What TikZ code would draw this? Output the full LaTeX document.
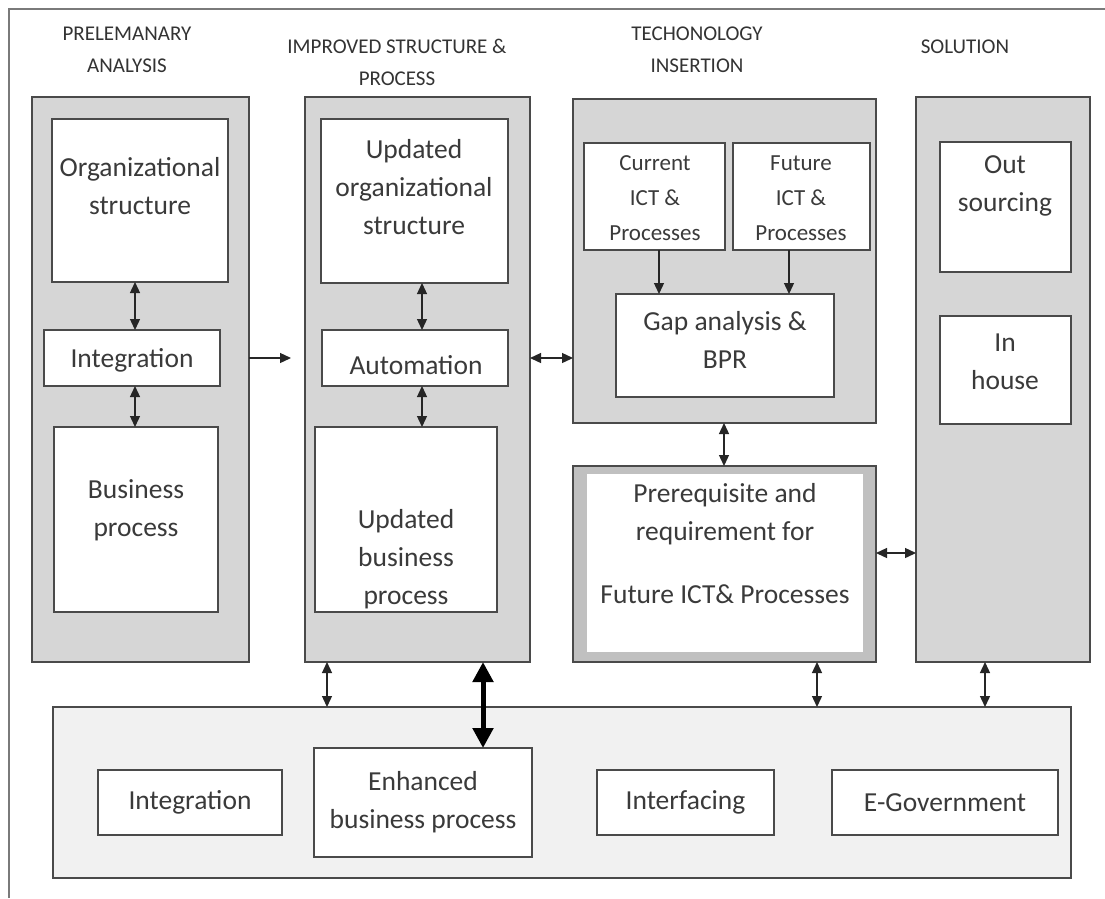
\documentclass[tikz,border=0pt]{standalone}
\usepackage{fontspec}
\setmainfont{Carlito}
\usetikzlibrary{arrows.meta,calc}
\definecolor{panelgray}{HTML}{D6D6D6}
\definecolor{botgray}{HTML}{F1F1F1}
\definecolor{bandgray}{HTML}{C0C0C0}
\definecolor{linec}{HTML}{4A4A4A}
\definecolor{txtc}{HTML}{3A3A3A}
\definecolor{framec}{HTML}{7A7A7A}
\newcommand\rbox[7]{\node[#2, anchor=north west, minimum width={(#5)-(#3)}, minimum height={(#6)-(#4)}] (#1) at (#3,#4) {#7};}
\begin{document}
\begin{tikzpicture}[x=1pt,y=-1pt,
  every node/.style={inner sep=0pt, outer sep=0pt, text=txtc},
  panel/.style={draw=linec, line width=1.4pt, fill=panelgray},
  wbox/.style={draw=linec, line width=1.4pt, fill=white, align=center, font=\fontsize{27.5}{38}\selectfont},
  bpanel/.style={draw=linec, line width=1.4pt, fill=botgray},
  bandbox/.style={draw=linec, line width=1.4pt, fill=bandgray},
  innerw/.style={fill=white, align=center, font=\fontsize{27.5}{38}\selectfont},
  txt/.style={align=center, font=\fontsize{27.5}{38}\selectfont},
  stxt/.style={align=center, font=\fontsize{23}{35}\selectfont},
  head/.style={align=center, font=\fontsize{21}{32}\selectfont, text=black!80},
  dbl/.style={draw=black!85, line width=1.3pt, {Triangle[width=10pt,length=11pt]}-{Triangle[width=10pt,length=11pt]}},
  sarr/.style={draw=black!85, line width=1.3pt, -{Triangle[width=10pt,length=11pt]}},
  bigdbl/.style={draw=black, line width=5pt, {Triangle[width=20pt,length=20pt]}-{Triangle[width=20pt,length=20pt]}}]
\useasboundingbox (0,0) rectangle (1105,898);
\fill[white] (0,0) rectangle (1105,898);
% outer frame
\draw[framec, line width=1.6pt] (9,898) -- (9,9) -- (1105,9);
% headers
\node[head] (h1) at (127,50) {PRELEMANARY\\ANALYSIS};
\node[head] (h2) at (397,62) {IMPROVED STRUCTURE \&\\PROCESS};
\node[head] (h3) at (697,50) {TECHONOLOGY\\INSERTION};
\node[head] (h4) at (965,47) {SOLUTION};
% column 1
\rbox{p1}{panel}{32}{97}{249}{662}{}
\rbox{org1}{wbox}{52}{119}{228}{282}{}
\node[txt] (org1t) at (140,186) {Organizational\\structure};
\rbox{int1}{wbox}{44}{330}{220}{386}{}
\node[txt] (int1t) at (132,360) {Integration};
\rbox{bp1}{wbox}{54}{427}{218}{612}{}
\node[txt] (bp1t) at (136,510) {Business\\process};
% column 2
\rbox{p2}{panel}{305}{97}{530}{662}{}
\rbox{org2}{wbox}{321}{119}{508}{283}{}
\node[txt] (org2t) at (414,187) {Updated\\organizational\\structure};
\rbox{aut2}{wbox}{322}{330}{508}{386}{}
\node[txt] (aut2t) at (416,365) {Automation};
\rbox{bp2}{wbox}{315}{427}{497}{612}{}
\node[txt] (bp2t) at (406,559) {Updated\\business\\process};
% column 3
\rbox{p3}{panel}{573}{99}{876}{423}{}
\rbox{cur}{wbox}{584}{143}{725}{250}{}
\node[stxt] (curt) at (655,198) {Current\\ICT \&\\Processes};
\rbox{fut}{wbox}{733}{143}{870}{250}{}
\node[stxt] (futt) at (801,198) {Future\\ICT \&\\Processes};
\rbox{gap}{wbox}{616}{294}{834}{397}{}
\node[txt] (gapt) at (725,340) {Gap analysis \&\\BPR};
\rbox{pre}{bandbox}{573}{466}{876}{662}{}
\rbox{prei}{innerw}{587}{474}{863}{652}{}
\node[txt] (pret) at (725,544) {Prerequisite and\\requirement for\\[25pt]Future ICT\& Processes};
% column 4
\rbox{p4}{panel}{916}{97}{1090}{662}{}
\rbox{outs}{wbox}{940}{142}{1071}{272}{}
\node[txt] (outst) at (1005,186) {Out\\sourcing};
\rbox{inh}{wbox}{940}{316}{1071}{424}{}
\node[txt] (inht) at (1005,362) {In\\house};
% bottom
\rbox{bot}{bpanel}{53}{707}{1071}{878}{}
\rbox{bint}{wbox}{98}{770}{282}{835}{Integration}
\rbox{enh}{wbox}{314}{748}{532}{857}{Enhanced\\business process}
\rbox{bif}{wbox}{597}{770}{774}{835}{Interfacing}
\rbox{egov}{wbox}{832}{770}{1058}{835}{E-Government}
% connector coordinates
\coordinate (x1) at (135,0);
\coordinate (x2) at (422,0);
\coordinate (xc) at (659,0);
\coordinate (xf) at (789,0);
\coordinate (xg) at (724,0);
\coordinate (xb1) at (327,0);
\coordinate (xb2) at (483,0);
\coordinate (xb3) at (817,0);
\coordinate (xb4) at (985,0);
\coordinate (y1) at (0,358);
\coordinate (y2) at (0,553);
\coordinate (arend) at (291,358);
% connectors
\draw[dbl] (org1.south -| x1) -- (int1.north -| x1);
\draw[dbl] (int1.south -| x1) -- (bp1.north -| x1);
\draw[sarr] (p1.east |- y1) -- (arend);
\draw[dbl] (org2.south -| x2) -- (aut2.north -| x2);
\draw[dbl] (aut2.south -| x2) -- (bp2.north -| x2);
\draw[dbl] (p2.east |- y1) -- (p3.west |- y1);
\draw[sarr] (cur.south -| xc) -- (gap.north -| xc);
\draw[sarr] (fut.south -| xf) -- (gap.north -| xf);
\draw[dbl] (p3.south -| xg) -- (pre.north -| xg);
\draw[dbl] (pre.east |- y2) -- (p4.west |- y2);
\draw[dbl] (p2.south -| xb1) -- (bot.north -| xb1);
\draw[bigdbl] (p2.south -| xb2) -- (enh.north -| xb2);
\draw[dbl] (pre.south -| xb3) -- (bot.north -| xb3);
\draw[dbl] (p4.south -| xb4) -- (bot.north -| xb4);
\end{tikzpicture}
\end{document}
